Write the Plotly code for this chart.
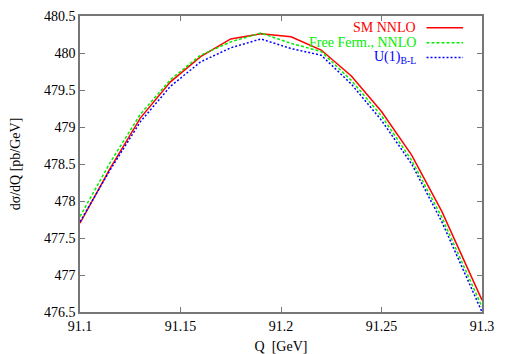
import plotly.graph_objects as go

# Q grid [GeV] and d(sigma)/dQ [pb/GeV] for each model
q = [91.1, 91.115, 91.13, 91.145, 91.16, 91.175, 91.19, 91.205, 91.22,
     91.235, 91.25, 91.265, 91.28, 91.3]
sm_nnlo = [477.70, 478.44, 479.12, 479.61, 479.95, 480.19, 480.26, 480.22,
           480.04, 479.69, 479.21, 478.62, 477.86, 476.66]
free_ferm = [477.79, 478.52, 479.17, 479.64, 479.97, 480.15, 480.27, 480.13,
             480.02, 479.63, 479.15, 478.55, 477.78, 476.57]
u1_bl = [477.72, 478.42, 479.07, 479.55, 479.88, 480.07, 480.19, 480.06,
         479.97, 479.58, 479.09, 478.50, 477.72, 476.50]

series = [
    ("SM NNLO", sm_nnlo, "#ff0000", "solid"),
    ("Free Ferm., NNLO", free_ferm, "#00ee00", "3px,2px"),
    ("U(1)<sub>B-L</sub>", u1_bl, "#0000ff", "2px,2px"),
]

SERIF = "Liberation Serif, Times New Roman, Times, serif"

fig = go.Figure()
for name, vals, col, dash in series:
    fig.add_trace(go.Scatter(x=q, y=vals, mode="lines", name=name,
                             line=dict(color=col, width=1.5, dash=dash),
                             showlegend=False))

# gnuplot-style legend: text right-aligned, sample line on the right
for i, (name, vals, col, dash) in enumerate(series):
    yy = 0.96 - i * 0.05
    fig.add_annotation(x=0.842, y=yy, xref="paper", yref="paper", text=name,
                       showarrow=False, xanchor="right", yanchor="middle",
                       font=dict(color=col, size=14, family=SERIF))
    fig.add_shape(type="line", xref="paper", yref="paper",
                  x0=0.862, x1=0.953, y0=yy, y1=yy,
                  line=dict(color=col, width=1.5, dash=dash))

axis_style = dict(showgrid=False, zeroline=False, ticks="inside", ticklen=5,
                  mirror="ticks", showline=True, linecolor="#777777",
                  linewidth=1.5, tickcolor="#777777", automargin=False,
                  tickfont=dict(size=14, color="black", family="serif"))

# page body adds an 8px offset, so the figure is 8px smaller and shifted
fig.update_layout(
    width=498, height=346,
    margin=dict(l=72, r=24, t=8, b=42),
    plot_bgcolor="white", paper_bgcolor="white",
    font=dict(family=SERIF, size=14, color="black"),
    xaxis=dict(range=[91.1, 91.3], dtick=0.05, tick0=91.1,
               title=dict(text="Q  [GeV]", standoff=9,
                          font=dict(family=SERIF, size=14)), **axis_style),
    yaxis=dict(range=[476.5, 480.5], dtick=0.5, tick0=476.5,
               title=dict(text="dσ/dQ [pb/GeV]", standoff=22,
                          font=dict(family=SERIF, size=14)), **axis_style),
)

fig.write_html("out.html")
